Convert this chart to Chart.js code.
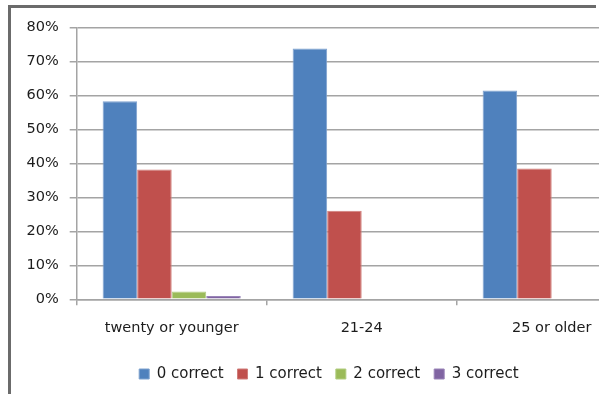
<!DOCTYPE html>
<html>
<head>
<meta charset="utf-8">
<script src="https://cdn.jsdelivr.net/npm/chart.js@4.4.1/dist/chart.umd.min.js"></script>
<style>
  html, body { margin: 0; padding: 0; background: #fff; }
  #page { position: relative; width: 599px; height: 394px; overflow: hidden; }
  #frameTop { position: absolute; left: 8px; top: 5px; width: 588px; height: 3px; background: #6b6b6b; }
  #frameLeft { position: absolute; left: 8px; top: 5px; width: 3px; height: 389px; background: #6b6b6b; }
  #wrap { position: absolute; left: 11px; top: 8px; width: 588px; height: 386px; overflow: hidden; }
</style>
</head>
<body>
<div id="page">
  <div id="frameTop"></div>
  <div id="frameLeft"></div>
  <div id="wrap"><canvas id="c" width="660" height="386"></canvas></div>
</div>
<script>
// Age groups along the x axis
const categories = ['twenty or younger', '21-24', '25 or older'];
// Share of respondents (%) by number of correct answers
const zeroCorrect  = [58.3, 73.9, 61.5];
const oneCorrect   = [38.2, 26.1, 38.5];
const twoCorrect   = [2.3, 0, 0];
const threeCorrect = [1.0, 0, 0];
const seriesNames  = ['0 correct', '1 correct', '2 correct', '3 correct'];
// Value axis ticks, in percent
const yTicks = [0, 10, 20, 30, 40, 50, 60, 70, 80];

const fills   = ['#4F81BD', '#C0504D', '#9BBB59', '#8064A2'];
const borders = ['#7FA2CF', '#D07D7A', '#B2CD80', '#9A85B8'];
const values  = [zeroCorrect, oneCorrect, twoCorrect, threeCorrect];

const FONT = { family: '"DejaVu Sans", sans-serif', size: 14.5 };
const TEXT = '#1c1c1c';
const GRID = '#a4a4a4';

new Chart(document.getElementById('c'), {
  type: 'bar',
  data: {
    labels: categories,
    datasets: values.map((v, i) => ({
      label: seriesNames[i],
      data: v,
      backgroundColor: fills[i],
      borderColor: borders[i],
      borderWidth: ctx => (ctx.raw ? 1 : 0),
      categoryPercentage: 0.727,
      barPercentage: 1.0
    }))
  },
  options: {
    responsive: false,
    animation: false,
    devicePixelRatio: 1,
    layout: { padding: { left: 0, right: 24.3, top: 16, bottom: 2.5 } },
    plugins: {
      tooltip: { enabled: false },
      legend: {
        position: 'bottom',
        labels: {
          color: TEXT,
          font: { family: FONT.family, size: 15 },
          boxWidth: 10,
          boxHeight: 10,
          padding: 14
        }
      }
    },
    scales: {
      x: {
        grid: { display: true, drawOnChartArea: false, offset: true, tickLength: 6, color: GRID, lineWidth: 1.5 },
        border: { display: true, color: GRID, width: 1.5 },
        ticks: { color: TEXT, font: FONT, padding: 14, maxRotation: 0 },
        afterFit: s => { s.height = 53.2; }
      },
      y: {
        min: 0,
        max: 80,
        afterBuildTicks: s => { s.ticks = yTicks.map(v => ({ value: v })); },
        grid: { color: GRID, lineWidth: 1.5, tickLength: 7 },
        border: { display: true, color: GRID, width: 1.5 },
        ticks: { color: TEXT, font: FONT, padding: 11, callback: v => v + '%' },
        afterFit: s => { s.width = 65.7; }
      }
    }
  }
});
</script>
</body>
</html>
